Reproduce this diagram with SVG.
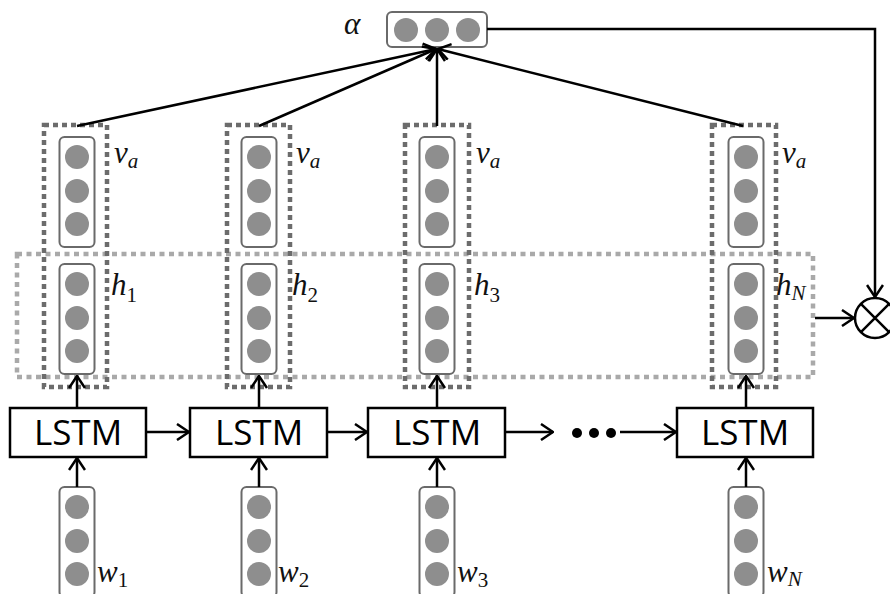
<svg xmlns="http://www.w3.org/2000/svg" width="890" height="594" viewBox="0 0 890 594">
<style>
.bg{fill:#fff}
.vec{fill:#fff;stroke:#6a6a6a;stroke-width:2}
.dot{fill:#8e8e8e}
.dk{fill:none;stroke:#6c6c6c;stroke-width:4.5;stroke-dasharray:5 4}
.lt{fill:none;stroke:#a9a9a9;stroke-width:4.5;stroke-dasharray:5 4.5}
.lstm{fill:#fff;stroke:#000;stroke-width:2.5}
.lt-text{font-family:"Open Sans","Liberation Sans",sans-serif;font-size:35px;fill:#000}
.ln{fill:none;stroke:#000;stroke-width:2.5}
.m{font-family:"Liberation Serif","DejaVu Serif",serif;font-style:italic;font-size:31px;fill:#111}
.s{font-size:21px}
.up{font-style:normal}
</style>
<defs>
<marker id="ah" viewBox="0 0 14 18" refX="13" refY="9" markerWidth="14" markerHeight="18" orient="auto" markerUnits="userSpaceOnUse">
<path d="M1,1 L13,9 L1,17" fill="none" stroke="#000" stroke-width="2.5"/>
</marker>
<g id="col3">
<rect class="vec" x="-17.5" y="0" width="35" height="110" rx="5"/>
<circle class="dot" cx="0" cy="20" r="12"/>
<circle class="dot" cx="0" cy="54" r="12"/>
<circle class="dot" cx="0" cy="87" r="12"/>
</g>
</defs>
<rect class="bg" x="0" y="0" width="890" height="594"/>

<g id="hidden-layer">
<rect class="lt" x="17" y="254" width="796" height="123"/>
</g>

<g id="node-alpha">
<rect class="vec" x="387" y="12" width="100" height="35" rx="5"/>
<circle class="dot" cx="406" cy="30" r="12"/>
<circle class="dot" cx="437" cy="30" r="12"/>
<circle class="dot" cx="468" cy="30" r="12"/>
<text class="m" x="344" y="34">α</text>
</g>

<g id="col-1">
<rect class="dk" x="44" y="125" width="63" height="262"/>
<use href="#col3" x="77" y="137"/>
<use href="#col3" x="77" y="264"/>
<text class="m" x="114" y="163">v<tspan class="s" dy="5">a</tspan></text>
<text class="m" x="111" y="295">h<tspan class="s up" dy="7">1</tspan></text>
</g>
<g id="col-2">
<rect class="dk" x="227" y="125" width="63" height="262"/>
<use href="#col3" x="259" y="137"/>
<use href="#col3" x="259" y="264"/>
<text class="m" x="296" y="163">v<tspan class="s" dy="5">a</tspan></text>
<text class="m" x="292" y="295">h<tspan class="s up" dy="7">2</tspan></text>
</g>
<g id="col-3">
<rect class="dk" x="405" y="125" width="64" height="262"/>
<use href="#col3" x="437" y="137"/>
<use href="#col3" x="437" y="264"/>
<text class="m" x="476" y="163">v<tspan class="s" dy="5">a</tspan></text>
<text class="m" x="474" y="295">h<tspan class="s up" dy="7">3</tspan></text>
</g>
<g id="col-N">
<rect class="dk" x="712" y="125" width="64" height="262"/>
<use href="#col3" x="746" y="137"/>
<use href="#col3" x="746" y="264"/>
<text class="m" x="782" y="163">v<tspan class="s" dy="5">a</tspan></text>
<text class="m" x="776" y="295">h<tspan class="s" dy="5">N</tspan></text>
</g>

<g id="lstm-1">
<rect class="lstm" x="10" y="408" width="136" height="49"/>
<text class="lt-text" x="78" y="445" text-anchor="middle">LSTM</text>
</g>
<g id="lstm-2">
<rect class="lstm" x="190" y="408" width="137" height="49"/>
<text class="lt-text" x="259" y="445" text-anchor="middle">LSTM</text>
</g>
<g id="lstm-3">
<rect class="lstm" x="368" y="408" width="137" height="49"/>
<text class="lt-text" x="437" y="445" text-anchor="middle">LSTM</text>
</g>
<g id="lstm-N">
<rect class="lstm" x="677" y="408" width="136" height="49"/>
<text class="lt-text" x="745" y="445" text-anchor="middle">LSTM</text>
</g>

<g id="w-1">
<use href="#col3" x="77" y="487"/>
<text class="m" x="97" y="582">w<tspan class="s up" dy="5">1</tspan></text>
</g>
<g id="w-2">
<use href="#col3" x="259" y="487"/>
<text class="m" x="278" y="582">w<tspan class="s up" dy="5">2</tspan></text>
</g>
<g id="w-3">
<use href="#col3" x="437" y="487"/>
<text class="m" x="457" y="582">w<tspan class="s up" dy="5">3</tspan></text>
</g>
<g id="w-N">
<use href="#col3" x="746" y="487"/>
<text class="m" x="767" y="582">w<tspan class="s" dy="4">N</tspan></text>
</g>

<g id="mult">
<circle cx="875" cy="318" r="20" fill="#fff" stroke="#000" stroke-width="2.5"/>
<path class="ln" d="M860.9,303.9 L889.1,332.1 M860.9,332.1 L889.1,303.9"/>
</g>

<g id="ellipsis">
<circle cx="577" cy="433" r="5" fill="#000"/>
<circle cx="594" cy="433" r="5" fill="#000"/>
<circle cx="611" cy="433" r="5" fill="#000"/>
</g>

<g id="connectors">
<path class="ln" d="M77,126 L436,49" marker-end="url(#ah)"/>
<path class="ln" d="M259,126 L436,49" marker-end="url(#ah)"/>
<path class="ln" d="M437,126 L437,49" marker-end="url(#ah)"/>
<path class="ln" d="M743,126 L438,49" marker-end="url(#ah)"/>
<path class="ln" d="M487,29 L875,29 L875,297" marker-end="url(#ah)"/>
<path class="ln" d="M815,318 L854,318" marker-end="url(#ah)"/>
<path class="ln" d="M77,408 L77,376" marker-end="url(#ah)"/>
<path class="ln" d="M259,408 L259,376" marker-end="url(#ah)"/>
<path class="ln" d="M437,408 L437,376" marker-end="url(#ah)"/>
<path class="ln" d="M746,408 L746,376" marker-end="url(#ah)"/>
<path class="ln" d="M77,487 L77,458" marker-end="url(#ah)"/>
<path class="ln" d="M259,487 L259,458" marker-end="url(#ah)"/>
<path class="ln" d="M437,487 L437,458" marker-end="url(#ah)"/>
<path class="ln" d="M746,487 L746,458" marker-end="url(#ah)"/>
<path class="ln" d="M146,432 L189,432" marker-end="url(#ah)"/>
<path class="ln" d="M327,432 L367,432" marker-end="url(#ah)"/>
<path class="ln" d="M505,432 L553,432" marker-end="url(#ah)"/>
<path class="ln" d="M620,432 L676,432" marker-end="url(#ah)"/>
</g>
</svg>
